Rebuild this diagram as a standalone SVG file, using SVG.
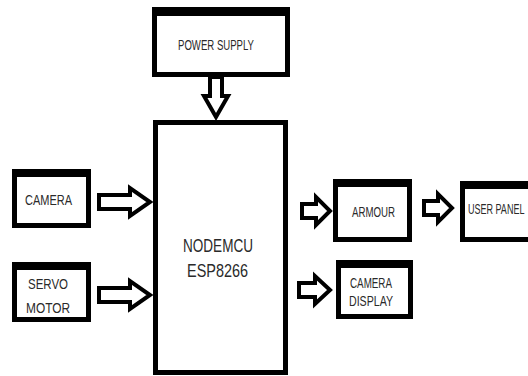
<svg xmlns="http://www.w3.org/2000/svg" width="528" height="376" viewBox="0 0 528 376">
<style>
.box{fill:#fff;stroke:#000;stroke-width:5}
.top{fill:#000}
.arr{fill:#fff;stroke:#000;stroke-width:4;stroke-linejoin:miter}
text{font-family:"Liberation Sans",Arial,sans-serif;fill:#2a2a2a;text-anchor:start}
.s{font-size:14px}
.l{font-size:19px}
</style>
<rect width="528" height="376" fill="#fff"/>
<g id="connectors">
<path class="arr" d="M210,77 V96 H204 L216,117 L228,96 H222 V77 Z"/>
<path class="arr" d="M99,195 H130 V188 L150,202 L130,216 V209 H99 Z"/>
<path class="arr" d="M99,288 H130 V281 L150,295 L130,309 V302 H99 Z"/>
<path class="arr" d="M302,204 H316 V197 L330,211 L316,225 V218 H302 Z"/>
<path class="arr" d="M424,201 H438 V194 L452,208 L438,222 V215 H424 Z"/>
<path class="arr" d="M299,283 H315 V276 L330,290 L315,304 V297 H299 Z"/>
</g>
<g id="power">
<rect class="box" x="154.5" y="9.5" width="133" height="65"/>
<rect class="top" x="152" y="7" width="138" height="9"/>
<text class="s" x="178" y="50" textLength="76" lengthAdjust="spacingAndGlyphs">POWER SUPPLY</text>
</g>
<g id="nodemcu">
<rect class="box" x="155.5" y="122.5" width="130" height="250"/>
<text class="l" x="183" y="252" textLength="70" lengthAdjust="spacingAndGlyphs">NODEMCU</text>
<text class="l" x="187" y="277" textLength="61" lengthAdjust="spacingAndGlyphs">ESP8266</text>
</g>
<g id="camera">
<rect class="box" x="14.5" y="171.5" width="74" height="54"/>
<rect class="top" x="12" y="169" width="79" height="8"/>
<text class="s" x="25" y="205" textLength="47" lengthAdjust="spacingAndGlyphs">CAMERA</text>
</g>
<g id="servo">
<rect class="box" x="14.5" y="264.5" width="74" height="55"/>
<rect class="top" x="12" y="262" width="79" height="8"/>
<text class="s" x="28" y="289" textLength="40" lengthAdjust="spacingAndGlyphs">SERVO</text>
<text class="s" x="26" y="313" textLength="44" lengthAdjust="spacingAndGlyphs">MOTOR</text>
</g>
<g id="armour">
<rect class="box" x="335.5" y="181.5" width="74" height="58"/>
<rect class="top" x="333" y="179" width="79" height="8"/>
<text class="s" x="352" y="217" textLength="43" lengthAdjust="spacingAndGlyphs">ARMOUR</text>
</g>
<g id="userpanel">
<rect class="box" x="462.5" y="183.5" width="80" height="56"/>
<rect class="top" x="460" y="181" width="85" height="8"/>
<text transform="translate(468,214) scale(0.95,1.45)" style="font-size:9.5px">USER PANEL</text>
</g>
<g id="cameradisplay">
<rect class="box" x="338.5" y="262.5" width="72" height="54"/>
<rect class="top" x="336" y="260" width="77" height="8"/>
<text class="s" x="350" y="288" textLength="42" lengthAdjust="spacingAndGlyphs">CAMERA</text>
<text class="s" x="349" y="306" textLength="44" lengthAdjust="spacingAndGlyphs">DISPLAY</text>
</g>
</svg>
